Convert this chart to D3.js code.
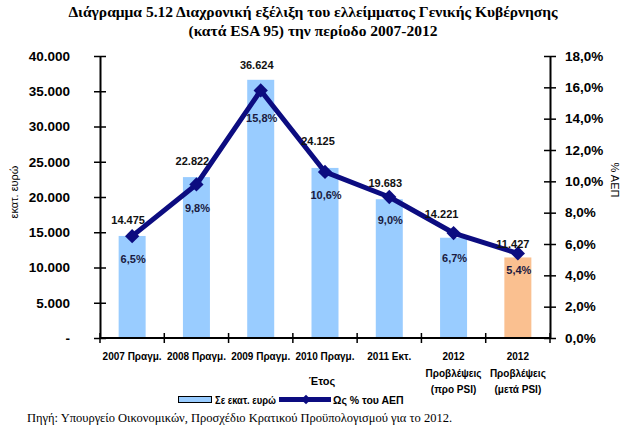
<!DOCTYPE html>
<html>
<head>
<meta charset="utf-8">
<script src="https://cdn.jsdelivr.net/npm/d3@7"></script>
<style>
html,body{margin:0;padding:0;background:#fff;}
svg{display:block;}
</style>
</head>
<body>
<svg id="chart" width="626" height="428"></svg>
<script>
// ---- data ----
const categories = [
  ["2007 Πραγμ."],
  ["2008 Πραγμ."],
  ["2009 Πραγμ."],
  ["2010 Πραγμ."],
  ["2011 Εκτ."],
  ["2012", "Προβλέψεις", "(προ PSI)"],
  ["2012", "Προβλέψεις", "(μετά PSI)"]
];
const deficitMillions = [14475, 22822, 36624, 24125, 19683, 14221, 11427];
const deficitPctGDP = [6.5, 9.8, 15.8, 10.6, 9.0, 6.7, 5.4];
const leftTicks = [0, 5000, 10000, 15000, 20000, 25000, 30000, 35000, 40000];
const rightTicks = [0, 2, 4, 6, 8, 10, 12, 14, 16, 18];
const titleLines = [
  "Διάγραμμα 5.12 Διαχρονική εξέλιξη του ελλείμματος Γενικής Κυβέρνησης",
  "(κατά ESA 95) την περίοδο 2007-2012"
];
const leftAxisTitle = "εκατ. ευρώ";
const rightAxisTitle = "% ΑΕΠ";
const xAxisTitle = "Έτος";
const legendBar = "Σε εκατ. ευρώ";
const legendLine = "Ως % του ΑΕΠ";
const sourceText = "Πηγή: Υπουργείο Οικονομικών, Προσχέδιο Κρατικού Προϋπολογισμού για το 2012.";

// ---- layout (not data) ----
const L = 100, R = 550, T = 56, B = 338;
const valLabelGap = [12, 12, 11, 23, 12, 20, 9];
const valLabelDx = [-4, -4, -4, -7, -4, -12, -5];
const pctLabelGap = [27, 28, 32, 27, 27, 29, 21];

const svg = d3.select("#chart");
const fmtThousands = d3.formatLocale({decimal: ",", thousands: ".", grouping: [3], currency: ["", "€"]}).format(",.0f");
const fmtPct = v => d3.format(".1f")(v).replace(".", ",") + "%";

const idx = d3.range(categories.length);
const x = d3.scaleBand().domain(idx).range([L, R]).paddingInner(0.58).paddingOuter(0.29);
const xb = d3.scaleBand().domain(idx).range([L, R]);
const yL = d3.scaleLinear().domain([0, 40000]).range([B, T]);
const yR = d3.scaleLinear().domain([0, 18]).range([B, T]);

const navy = "#0c0c80";
const barBlue = "#99ccff";
const barOrange = "#fac090";

// title
svg.append("g").selectAll("text").data(titleLines).join("text")
  .attr("x", 313).attr("y", (d, i) => 17 + i * 19)
  .attr("text-anchor", "middle")
  .attr("font-family", "'Liberation Serif','Times New Roman',serif")
  .attr("font-weight", "bold")
  .attr("font-size", "15.5px").attr("fill", "#000")
  .text(d => d);

// bars
svg.append("g").selectAll("rect").data(deficitMillions).join("rect")
  .attr("x", (d, i) => x(i)).attr("width", x.bandwidth())
  .attr("y", d => yL(d)).attr("height", d => B - yL(d))
  .attr("fill", (d, i) => i === deficitMillions.length - 1 ? barOrange : barBlue);

// left axis
const axL = svg.append("g").attr("transform", `translate(${L},0)`)
  .call(d3.axisLeft(yL).tickValues(leftTicks).tickSize(0).tickPadding(30)
    .tickFormat(d => d === 0 ? "-" : fmtThousands(d)));
axL.select(".domain").attr("stroke", "#000").attr("stroke-width", 2);
axL.selectAll("text").attr("font-family", "'Liberation Sans',Arial,sans-serif")
  .attr("font-weight", "bold").attr("font-size", "13.5px").attr("fill", "#000");
axL.selectAll(".tick").append("line").attr("x1", -6).attr("x2", 6).attr("stroke", "#000").attr("stroke-width", 1.5);

// right axis
const axR = svg.append("g").attr("transform", `translate(${R},0)`)
  .call(d3.axisRight(yR).tickValues(rightTicks).tickSize(0).tickPadding(15).tickFormat(fmtPct));
axR.select(".domain").attr("stroke", "#000").attr("stroke-width", 2);
axR.selectAll("text").attr("font-family", "'Liberation Sans',Arial,sans-serif")
  .attr("font-weight", "bold").attr("font-size", "13.5px").attr("fill", "#000");
axR.selectAll(".tick").append("line").attr("x1", -6).attr("x2", 6).attr("stroke", "#000").attr("stroke-width", 1.5);

// x axis
const axX = svg.append("g").attr("transform", `translate(0,${B})`);
axX.append("line").attr("x1", L).attr("x2", R).attr("stroke", "#000").attr("stroke-width", 2);
axX.selectAll(".xt").data(idx.concat([categories.length])).join("line").attr("class", "xt")
  .attr("x1", i => i < categories.length ? xb(i) : R).attr("x2", i => i < categories.length ? xb(i) : R)
  .attr("y1", -5).attr("y2", 5).attr("stroke", "#000").attr("stroke-width", 1.5);
const cl = axX.selectAll(".cl").data(categories).join("text").attr("class", "cl")
  .attr("text-anchor", "middle")
  .attr("font-family", "'Liberation Sans',Arial,sans-serif")
  .attr("font-weight", "bold").attr("font-size", "10px").attr("fill", "#000");
cl.each(function(lines, i) {
  d3.select(this).selectAll("tspan").data(lines).join("tspan")
    .attr("x", xb(i) + xb.bandwidth() / 2)
    .attr("y", (d, j) => 22 + j * 16.5)
    .text(d => d);
});

// axis titles
svg.append("text").attr("transform", "translate(18,192) rotate(-90)")
  .attr("text-anchor", "middle").attr("font-family", "'Liberation Sans',Arial,sans-serif")
  .attr("font-size", "11px").attr("fill", "#000").text(leftAxisTitle);
svg.append("text").attr("transform", "translate(611,180) rotate(90)")
  .attr("text-anchor", "middle").attr("font-family", "'Liberation Sans',Arial,sans-serif")
  .attr("font-size", "11px").attr("fill", "#000").text(rightAxisTitle);
svg.append("text").attr("x", 322).attr("y", 385)
  .attr("text-anchor", "middle").attr("font-family", "'Liberation Sans',Arial,sans-serif")
  .attr("font-weight", "bold").attr("font-size", "11px").attr("fill", "#000").text(xAxisTitle);

// line
const cx = i => xb(i) + xb.bandwidth() / 2;
svg.append("path").datum(deficitPctGDP)
  .attr("d", d3.line().x((d, i) => cx(i)).y(d => yR(d)))
  .attr("fill", "none").attr("stroke", navy).attr("stroke-width", 5).attr("stroke-linejoin", "round");
const diamond = d3.symbol().type(d3.symbolDiamond2).size(130);
svg.append("g").selectAll("path").data(deficitPctGDP).join("path")
  .attr("transform", (d, i) => `translate(${cx(i)},${yR(d)})`)
  .attr("d", diamond).attr("fill", navy);

// value labels
svg.append("g").selectAll("text").data(deficitMillions).join("text")
  .attr("x", (d, i) => cx(i) + valLabelDx[i])
  .attr("y", (d, i) => yL(d) - valLabelGap[i])
  .attr("text-anchor", "middle").attr("font-family", "'Liberation Sans',Arial,sans-serif")
  .attr("font-weight", "bold").attr("font-size", "11px").attr("fill", "#111")
  .text(d => fmtThousands(d));
svg.append("g").selectAll("text").data(deficitPctGDP).join("text")
  .attr("x", (d, i) => cx(i) + 1)
  .attr("y", (d, i) => yR(d) + pctLabelGap[i])
  .attr("text-anchor", "middle").attr("font-family", "'Liberation Sans',Arial,sans-serif")
  .attr("font-weight", "bold").attr("font-size", "11px").attr("fill", "#1a1a40")
  .text(d => fmtPct(d));

// legend
const lg = svg.append("g");
lg.append("rect").attr("x", 178.5).attr("y", 396.5).attr("width", 33).attr("height", 6)
  .attr("fill", barBlue).attr("stroke", "#000").attr("stroke-width", 1);
lg.append("text").attr("x", 215).attr("y", 404)
  .attr("font-family", "'Liberation Sans',Arial,sans-serif").attr("font-weight", "bold")
  .attr("font-size", "10.5px").attr("fill", "#000")
  .attr("textLength", 61).attr("lengthAdjust", "spacingAndGlyphs").text(legendBar);
lg.append("line").attr("x1", 279).attr("x2", 331).attr("y1", 399.5).attr("y2", 399.5)
  .attr("stroke", navy).attr("stroke-width", 5);
lg.append("path").attr("transform", "translate(306,399.5)").attr("d", d3.symbol().type(d3.symbolDiamond2).size(60)).attr("fill", navy);
lg.append("text").attr("x", 333).attr("y", 404)
  .attr("font-family", "'Liberation Sans',Arial,sans-serif").attr("font-weight", "bold")
  .attr("font-size", "10.5px").attr("fill", "#000").text(legendLine);

// source
svg.append("text").attr("x", 27).attr("y", 422)
  .attr("font-family", "'Liberation Serif','Times New Roman',serif")
  .attr("font-size", "12.5px").attr("fill", "#000").text(sourceText);
</script>
</body>
</html>
